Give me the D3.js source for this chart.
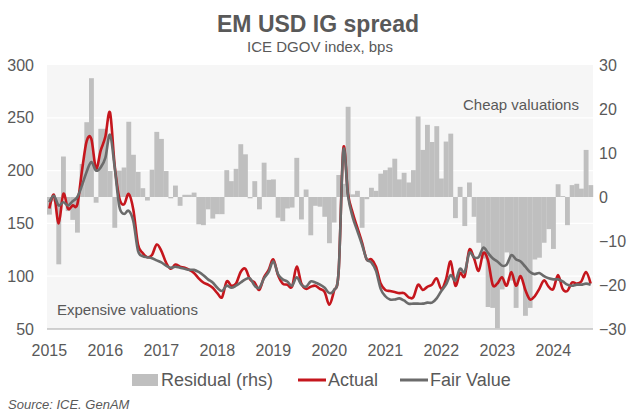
<!DOCTYPE html>
<html>
<head>
<meta charset="utf-8">
<script src="https://cdn.jsdelivr.net/npm/d3@7"></script>
<style>
  body { margin: 0; background: #fff; }
  svg text { font-family: "Liberation Sans", Arial, sans-serif; fill: #595959; }
</style>
</head>
<body>
<div id="chart"></div>
<script>
/* EM USD IG spread: actual vs fair value, residual on rhs */

const width = 632;
const height = 412;

// monthly, Jan 2015 .. Sep 2024
const months = d3.timeMonth.range(new Date(2015, 0, 1), new Date(2024, 9, 1));
const yearTicks = [2015, 2016, 2017, 2018, 2019, 2020, 2021, 2022, 2023, 2024];
const leftTicks = [50, 100, 150, 200, 250, 300];
const rightTicks = [-30, -20, -10, 0, 10, 20, 30];

const actual = [
  164, 177, 150, 178, 164, 167, 168, 200, 228, 230,
  202, 219, 232, 255, 205, 174, 168, 178, 163, 130,
  122, 118, 120, 130, 124, 113, 107, 111, 109, 108,
  106, 103, 98, 94, 92, 89, 84, 80, 95, 91,
  93, 104, 107, 97, 94, 87, 99, 106, 116, 101,
  93, 92, 90, 109, 93, 88, 90, 91, 88, 85,
  73, 86, 105, 221, 178, 160, 146, 132, 116, 116,
  109, 93, 87, 86, 85, 84, 84, 80, 80, 92,
  87, 90, 92, 98, 88, 97, 114, 91, 103, 100,
  125, 117, 105, 122, 115, 92, 93, 99, 91, 104,
  91, 100, 87, 78, 81, 88, 96, 90, 88, 101,
  88, 86, 94, 93, 95, 104, 93
];

const fairValue = [
  170, 176, 167, 170, 167, 171, 175, 186, 199, 208,
  200, 203, 212, 234, 203, 166, 159, 162, 152, 124,
  119, 118, 117, 115, 113, 110, 108, 109, 108, 107,
  106, 106, 104, 101, 97, 94, 89, 86, 91, 89,
  91, 94, 97, 98, 91, 89, 98, 104, 114, 102,
  97, 95, 91, 99, 92, 90, 95, 94, 92, 89,
  84, 87, 105, 219, 176, 156, 143, 130, 116, 113,
  105, 88, 81, 78, 78, 79, 77, 74, 74, 74,
  74, 75, 75, 79, 86, 92, 101, 96, 107, 104,
  122, 118, 118, 127, 122, 117, 114, 110, 111, 120,
  116, 114, 109, 104, 102, 103, 100, 98, 97, 97,
  95, 92, 91, 92, 92, 93, 92
];

const residual = [
  -4, -1, -15.3, 9.2, -3.2, -5.2, -8.1, 7.5, 17, 27,
  -1.3, 15.5, 15.5, 5.9, -7, 6, 6.7, 17.1, 9.6, 5.7,
  2, -0.8, 6.2, 14.8, 13.2, 5.9, -0.3, 2.6, -2, 0.5,
  0.5, 1, -6.2, -6.4, -2.8, -4.9, -3.9, -3.9, 6.1, 3.6,
  6.4, 12, 9.7, -0.3, 3.6, -2.8, 7.8, 3.9, 4, -4.7,
  -5.5, -2.6, -2.4, 8.9, -5.1, 1.7, -8.7, -2, -2.2, -4.5,
  -10.5, -5.8, 5, 3, 20.5, 0.6, 1.4, -7, -0.5, 2.1,
  1.4, 5.3, 6.1, 6.7, 8.7, 4, 5.5, 3.3, 6.1, 18.3,
  10.7, 16.4, 12.5, 16.1, 4.2, 12.6, 14.4, -4.8, 2.3, -6.6,
  3.3, -4.5, -10.4, -14, -25, -25.2, -29.8, -21, -12.6, -19,
  -25.2, -18.6, -27, -25.2, -14.2, -13.8, -10.4, -7.3, -11.8, 2.9,
  0.2, -6.4, 2.7, 3, 1.9, 10.7, 2.7
];

const plot = { left: 47, right: 593, top: 65, bottom: 329 };

const svg = d3.select("#chart")
  .append("svg")
  .attr("width", width)
  .attr("height", height);

const x = d3.scaleBand()
  .domain(months.map((d, i) => i))
  .range([plot.left, plot.right])
  .padding(0);

const xMid = i => x(i) + x.bandwidth() / 2;

const yL = d3.scaleLinear().domain([50, 300]).range([plot.bottom, plot.top]);
const yR = d3.scaleLinear().domain([-30, 30]).range([plot.bottom, plot.top]);

// plot background + gridlines
svg.append("rect")
  .attr("x", plot.left).attr("y", plot.top)
  .attr("width", plot.right - plot.left)
  .attr("height", plot.bottom - plot.top)
  .attr("fill", "#f6f6f6");

svg.append("g")
  .selectAll("line")
  .data(leftTicks.slice(1, -1))
  .join("line")
  .attr("x1", plot.left).attr("x2", plot.right)
  .attr("y1", d => yL(d)).attr("y2", d => yL(d))
  .attr("stroke", "#ffffff")
  .attr("stroke-width", 1.2);

// residual bars (rhs)
svg.append("g")
  .selectAll("rect")
  .data(residual)
  .join("rect")
  .attr("x", (d, i) => x(i))
  .attr("width", x.bandwidth() + 0.2)
  .attr("y", d => yR(Math.max(0, d)))
  .attr("height", d => Math.abs(yR(d) - yR(0)))
  .attr("fill", "#bfbfbf");

// x axis line
svg.append("line")
  .attr("x1", plot.left).attr("x2", plot.right)
  .attr("y1", plot.bottom).attr("y2", plot.bottom)
  .attr("stroke", "#a6a6a6")
  .attr("stroke-width", 1);

// lines
const line = series => d3.line()
  .x((d, i) => xMid(i))
  .y(d => yL(d))
  .curve(d3.curveCatmullRom.alpha(0))(series);

svg.append("path")
  .attr("d", line(actual))
  .attr("fill", "none")
  .attr("stroke", "#c5161d")
  .attr("stroke-width", 2.6)
  .attr("stroke-linejoin", "round");

svg.append("path")
  .attr("d", line(fairValue))
  .attr("fill", "none")
  .attr("stroke", "#6b6b6b")
  .attr("stroke-width", 2.6)
  .attr("stroke-linejoin", "round");

// axes (labels only)
const yAxisL = d3.axisLeft(yL).tickValues(leftTicks).tickSize(0).tickPadding(13);
svg.append("g")
  .attr("transform", `translate(${plot.left},0)`)
  .call(yAxisL)
  .call(g => g.select(".domain").remove())
  .selectAll("text")
  .style("font-size", "16px");

const yAxisR = d3.axisRight(yR).tickValues(rightTicks).tickSize(0).tickPadding(6);
svg.append("g")
  .attr("transform", `translate(${plot.right},0)`)
  .call(yAxisR)
  .call(g => g.select(".domain").remove())
  .selectAll("text")
  .style("font-size", "16px");

const yearIndex = yearTicks.map(y => months.findIndex(m => m.getFullYear() === y));
svg.append("g")
  .selectAll("text")
  .data(yearTicks)
  .join("text")
  .attr("x", (d, k) => xMid(yearIndex[k]))
  .attr("y", 356)
  .attr("text-anchor", "middle")
  .style("font-size", "16px")
  .text(d => d);

// titles
svg.append("text")
  .attr("x", 318).attr("y", 32)
  .attr("text-anchor", "middle")
  .style("font-size", "23px")
  .style("font-weight", "bold")
  .text("EM USD IG spread");

svg.append("text")
  .attr("x", 320).attr("y", 52)
  .attr("text-anchor", "middle")
  .style("font-size", "15px")
  .text("ICE DGOV index, bps");

// annotations
svg.append("text")
  .attr("x", 463).attr("y", 110)
  .style("font-size", "15px")
  .text("Cheap valuations");

svg.append("text")
  .attr("x", 57).attr("y", 315)
  .style("font-size", "15px")
  .text("Expensive valuations");

// legend
const legend = svg.append("g");
legend.append("rect")
  .attr("x", 132).attr("y", 374)
  .attr("width", 26).attr("height", 12)
  .attr("fill", "#bfbfbf");
legend.append("text")
  .attr("x", 161).attr("y", 386)
  .style("font-size", "18px")
  .text("Residual (rhs)");
legend.append("line")
  .attr("x1", 298).attr("x2", 326).attr("y1", 380).attr("y2", 380)
  .attr("stroke", "#c5161d").attr("stroke-width", 3);
legend.append("text")
  .attr("x", 328).attr("y", 386)
  .style("font-size", "18px")
  .text("Actual");
legend.append("line")
  .attr("x1", 400).attr("x2", 428).attr("y1", 380).attr("y2", 380)
  .attr("stroke", "#6b6b6b").attr("stroke-width", 3);
legend.append("text")
  .attr("x", 430).attr("y", 386)
  .style("font-size", "18px")
  .text("Fair Value");

svg.append("text")
  .attr("x", 8).attr("y", 409)
  .style("font-size", "13px")
  .style("font-style", "italic")
  .text("Source: ICE. GenAM");
</script>
</body>
</html>
